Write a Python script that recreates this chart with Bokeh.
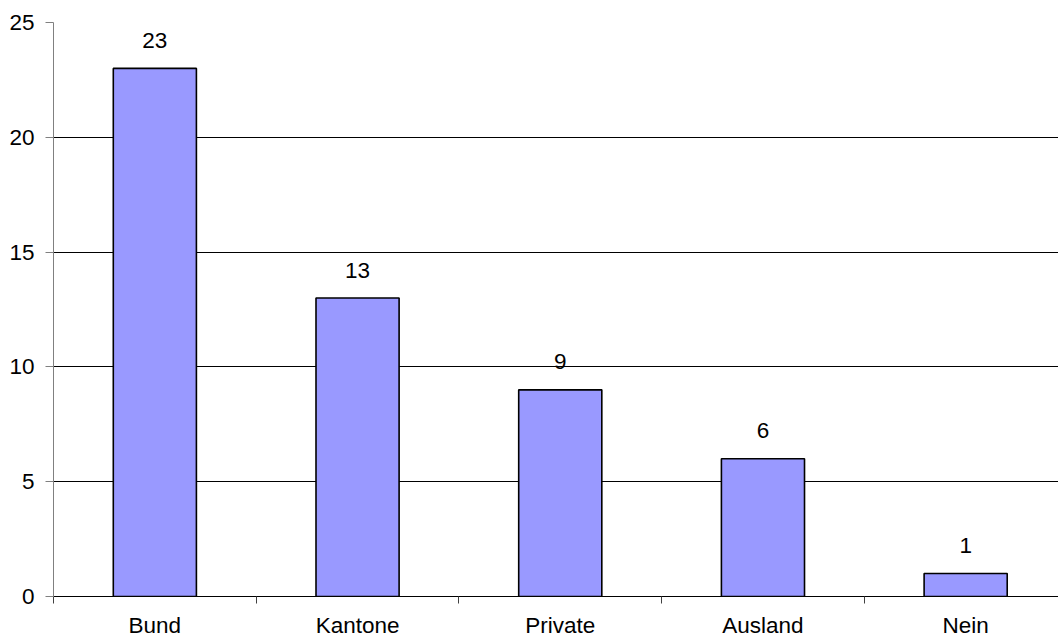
from bokeh.plotting import figure
from bokeh.models import Range1d, FixedTicker, ColumnDataSource
from bokeh.core.properties import value
from bokeh.embed import file_html
from bokeh.resources import INLINE

categories = ["Bund", "Kantone", "Private", "Ausland", "Nein"]
counts = [23, 13, 9, 6, 1]
y_ticks = [0, 5, 10, 15, 20, 25]

FONT = "Liberation Sans"
FSIZE = "22.5px"

centers = [i + 0.5 for i in range(len(categories))]
src = ColumnDataSource(dict(x=centers, top=counts, label=[str(v) for v in counts]))

p = figure(width=1058, height=640, output_backend="svg", toolbar_location=None,
           x_range=Range1d(0, 4.958), y_range=Range1d(0, 25),
           min_border_left=53, min_border_top=22, min_border_right=0, min_border_bottom=10)
p.outline_line_color = None
p.background_fill_color = "white"
p.border_fill_color = "white"

p.vbar(x="x", top="top", width=0.41, bottom=0, source=src,
       fill_color="#9999FF", line_color="#000000", line_width=1.6)
p.text(x="x", y="top", text="label", source=src, text_align="center",
       text_baseline="alphabetic", y_offset=-28,
       text_font=value(FONT), text_font_size=FSIZE, text_color="#000000")

# y axis
p.yaxis.ticker = FixedTicker(ticks=y_ticks)
p.yaxis.axis_line_color = "#808080"
p.yaxis.major_tick_line_color = "#808080"
p.yaxis.major_tick_out = 8
p.yaxis.major_tick_in = 0
p.yaxis.minor_tick_line_color = None
p.yaxis.major_label_standoff = 11
p.yaxis.major_label_text_font = FONT
p.yaxis.major_label_text_font_size = FSIZE
p.yaxis.major_label_text_color = "#000000"

# x axis
p.xaxis.ticker = FixedTicker(ticks=centers, minor_ticks=[0, 1, 2, 3, 4])
p.xaxis.major_label_overrides = {c: n for c, n in zip(centers, categories)}
p.xaxis.axis_line_color = "#000000"
p.xaxis.major_tick_line_color = None
p.xaxis.major_tick_out = 0
p.xaxis.major_tick_in = 0
p.xaxis.minor_tick_line_color = "#404040"
p.xaxis.minor_tick_out = 7
p.xaxis.minor_tick_in = 0
p.xaxis.major_label_standoff = 9
p.xaxis.major_label_text_font = FONT
p.xaxis.major_label_text_font_size = FSIZE
p.xaxis.major_label_text_color = "#000000"

p.xgrid.grid_line_color = None
p.ygrid.ticker = FixedTicker(ticks=y_ticks)
p.ygrid.grid_line_color = "#000000"
p.ygrid.grid_line_width = 1

open("out.html", "w").write(file_html(p, INLINE))
